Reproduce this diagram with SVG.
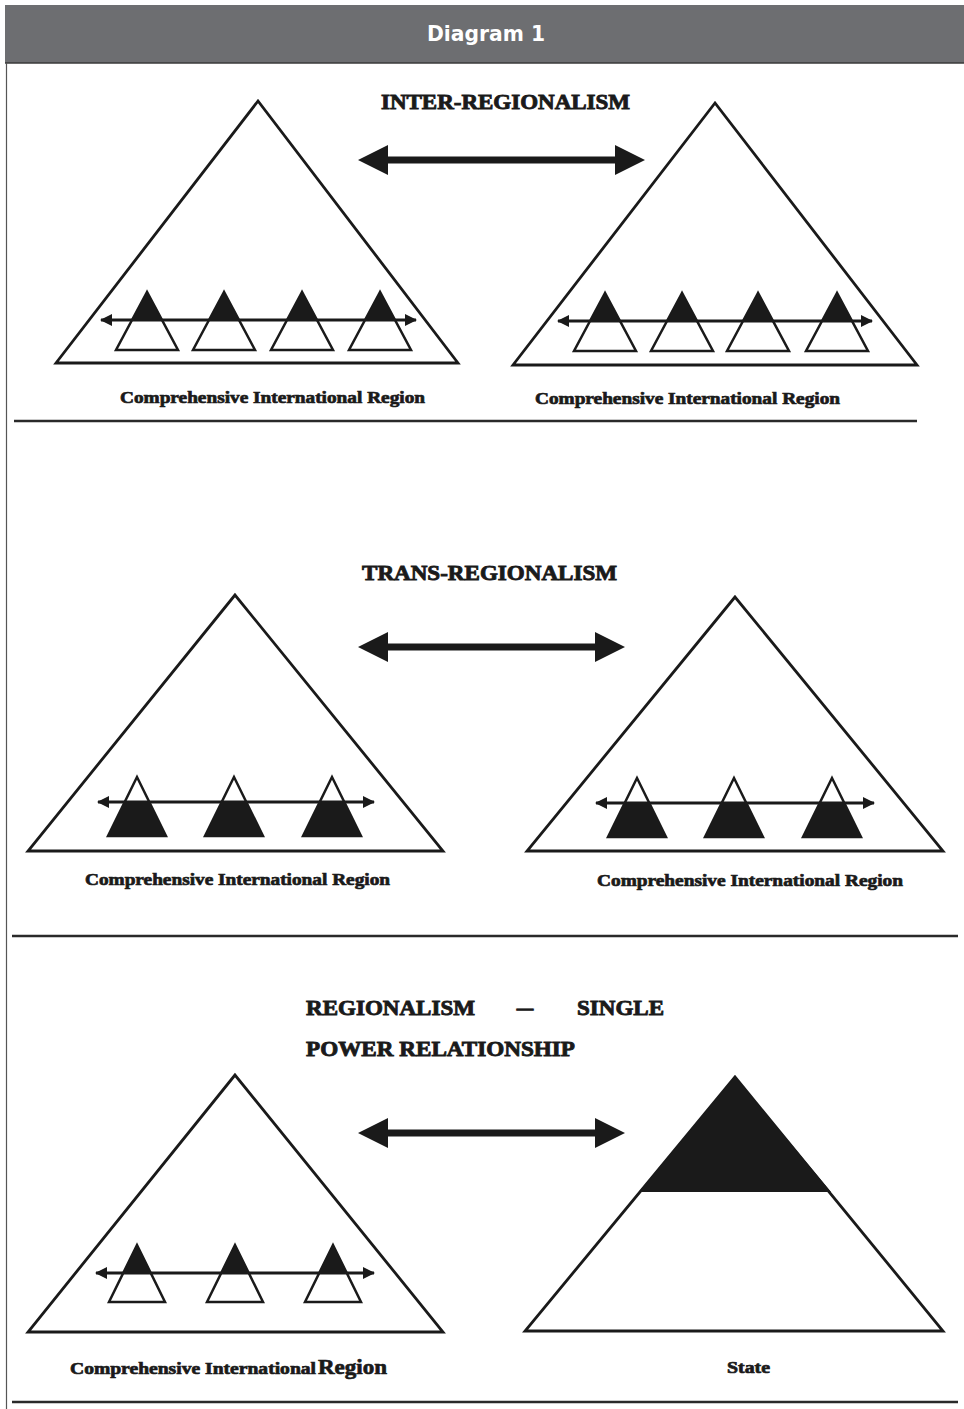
<svg xmlns="http://www.w3.org/2000/svg" xmlns:xlink="http://www.w3.org/1999/xlink" width="964" height="1409" viewBox="0 0 964 1409">
<style>
.big{fill:#fff;stroke:#1a1a1a;stroke-width:2.8;stroke-linejoin:miter}
.sm{fill:#fff;stroke:#1a1a1a;stroke-width:2.5}
.blk{fill:#1a1a1a}
.sep{stroke:#2a2a2a;stroke-width:2.6}
.lbl{font-family:"Liberation Serif",serif;font-weight:bold;font-size:17px;fill:#1a1a1a;stroke:#1a1a1a;stroke-width:0.7}
.ttl{font-family:"Liberation Serif",serif;font-weight:bold;font-size:22px;fill:#1a1a1a;stroke:#1a1a1a;stroke-width:0.9}
.sarr{stroke:#1a1a1a;stroke-width:3;fill:none;marker-start:url(#ah);marker-end:url(#ah)}
.barr{fill:#1a1a1a}
</style>
<defs>
<marker id="ah" markerUnits="userSpaceOnUse" viewBox="0 0 12 12" refX="11" refY="6" markerWidth="12" markerHeight="12" orient="auto-start-reverse">
<path d="M0,0 L12,6 L0,12 z" fill="#1a1a1a"/>
</marker>
<g id="sA"><polygon class="sm" points="0,0 -31,58 31,58"/><polygon class="blk" points="0,0 -15,29 15,29"/></g>
<g id="sB"><polygon class="sm" points="0,0 -29,59 29,59"/><polygon class="blk" points="-12.3,25 12.3,25 29,59 -29,59"/></g>
<g id="sC"><polygon class="sm" points="0,0 -28,57 28,57"/><polygon class="blk" points="0,0 -14,28.5 14,28.5"/></g>
</defs>
<rect width="964" height="1409" fill="#fff"/>
<g id="header">
<rect x="5" y="5" width="959" height="58" fill="#6d6e71"/>
<line x1="5" y1="63" x2="964" y2="63" stroke="#3a3a3a" stroke-width="1.5"/>
<line x1="6.5" y1="63" x2="6.5" y2="1409" stroke="#555" stroke-width="1.2"/>
<text x="486" y="41" text-anchor="middle" font-family="'DejaVu Sans Condensed','DejaVu Sans',sans-serif" font-weight="bold" font-size="22" fill="#fff" textLength="118" lengthAdjust="spacingAndGlyphs">Diagram 1</text>
</g>
<g id="separators">
<line class="sep" x1="14" y1="421" x2="917" y2="421"/>
<line class="sep" x1="12" y1="936" x2="958" y2="936"/>
<line class="sep" x1="12" y1="1402" x2="958" y2="1402"/>
</g>
<g id="title-inter"><text class="ttl" x="381" y="109" textLength="249" lengthAdjust="spacingAndGlyphs">INTER-REGIONALISM</text></g>
<g id="title-trans"><text class="ttl" x="362" y="580" textLength="255" lengthAdjust="spacingAndGlyphs">TRANS-REGIONALISM</text></g>
<g id="title-single">
<text class="ttl" x="306" y="1015" textLength="169" lengthAdjust="spacingAndGlyphs">REGIONALISM</text>
<text class="ttl" x="517" y="1015" textLength="16" lengthAdjust="spacingAndGlyphs">–</text>
<text class="ttl" x="577" y="1015" textLength="87" lengthAdjust="spacingAndGlyphs">SINGLE</text>
<text class="ttl" x="306" y="1056" textLength="269" lengthAdjust="spacingAndGlyphs">POWER RELATIONSHIP</text>
</g>
<g id="p1-left">
<polygon class="big" points="258,101 56,363 458,363"/>
<use href="#sA" x="147" y="292"/><use href="#sA" x="224" y="292"/><use href="#sA" x="302" y="292"/><use href="#sA" x="380" y="292"/>
<text class="lbl" x="120" y="403" textLength="305" lengthAdjust="spacingAndGlyphs">Comprehensive International Region</text>
</g>
<g id="p1-right">
<polygon class="big" points="715,103 513,365 917,365"/>
<use href="#sA" x="605" y="293"/><use href="#sA" x="682" y="293"/><use href="#sA" x="758" y="293"/><use href="#sA" x="837" y="293"/>
<text class="lbl" x="535" y="404" textLength="305" lengthAdjust="spacingAndGlyphs">Comprehensive International Region</text>
</g>
<g id="p2-left">
<polygon class="big" points="235,595 28,851 443,851"/>
<use href="#sB" x="137" y="777"/><use href="#sB" x="234" y="777"/><use href="#sB" x="332" y="777"/>
<text class="lbl" x="85" y="885" textLength="305" lengthAdjust="spacingAndGlyphs">Comprehensive International Region</text>
</g>
<g id="p2-right">
<polygon class="big" points="735,597 527,851 943,851"/>
<use href="#sB" x="637" y="778"/><use href="#sB" x="734" y="778"/><use href="#sB" x="832" y="778"/>
<text class="lbl" x="597" y="886" textLength="306" lengthAdjust="spacingAndGlyphs">Comprehensive International Region</text>
</g>
<g id="p3-left">
<polygon class="big" points="235,1075 28,1332 443,1332"/>
<use href="#sC" x="137" y="1245"/><use href="#sC" x="235" y="1245"/><use href="#sC" x="333" y="1245"/>
<text class="lbl" x="70" y="1374"><tspan textLength="246" lengthAdjust="spacingAndGlyphs">Comprehensive International</tspan><tspan x="318" font-size="21" textLength="69" lengthAdjust="spacingAndGlyphs">Region</tspan></text>
</g>
<g id="p3-right">
<polygon class="big" points="735,1077 525,1331 943,1331"/>
<polygon class="blk" points="735,1077 639,1192 831,1192"/>
<text class="lbl" x="727" y="1373" font-size="16" textLength="43" lengthAdjust="spacingAndGlyphs">State</text>
</g>
<g id="connectors">
<polygon class="barr" points="358,160 388,145 388,156.5 615,156.5 615,145 645,160 615,175 615,163.5 388,163.5 388,175"/>
<polygon class="barr" points="358,647 388,632 388,643.5 595,643.5 595,632 625,647 595,662 595,650.5 388,650.5 388,662"/>
<polygon class="barr" points="358,1133 388,1118 388,1129.5 595,1129.5 595,1118 625,1133 595,1148 595,1136.5 388,1136.5 388,1148"/>
<line class="sarr" x1="101" y1="320" x2="416" y2="320"/>
<line class="sarr" x1="558" y1="321" x2="872" y2="321"/>
<line class="sarr" x1="98" y1="802" x2="374" y2="802"/>
<line class="sarr" x1="596" y1="803" x2="874" y2="803"/>
<line class="sarr" x1="96" y1="1273" x2="374" y2="1273"/>
</g>
</svg>
